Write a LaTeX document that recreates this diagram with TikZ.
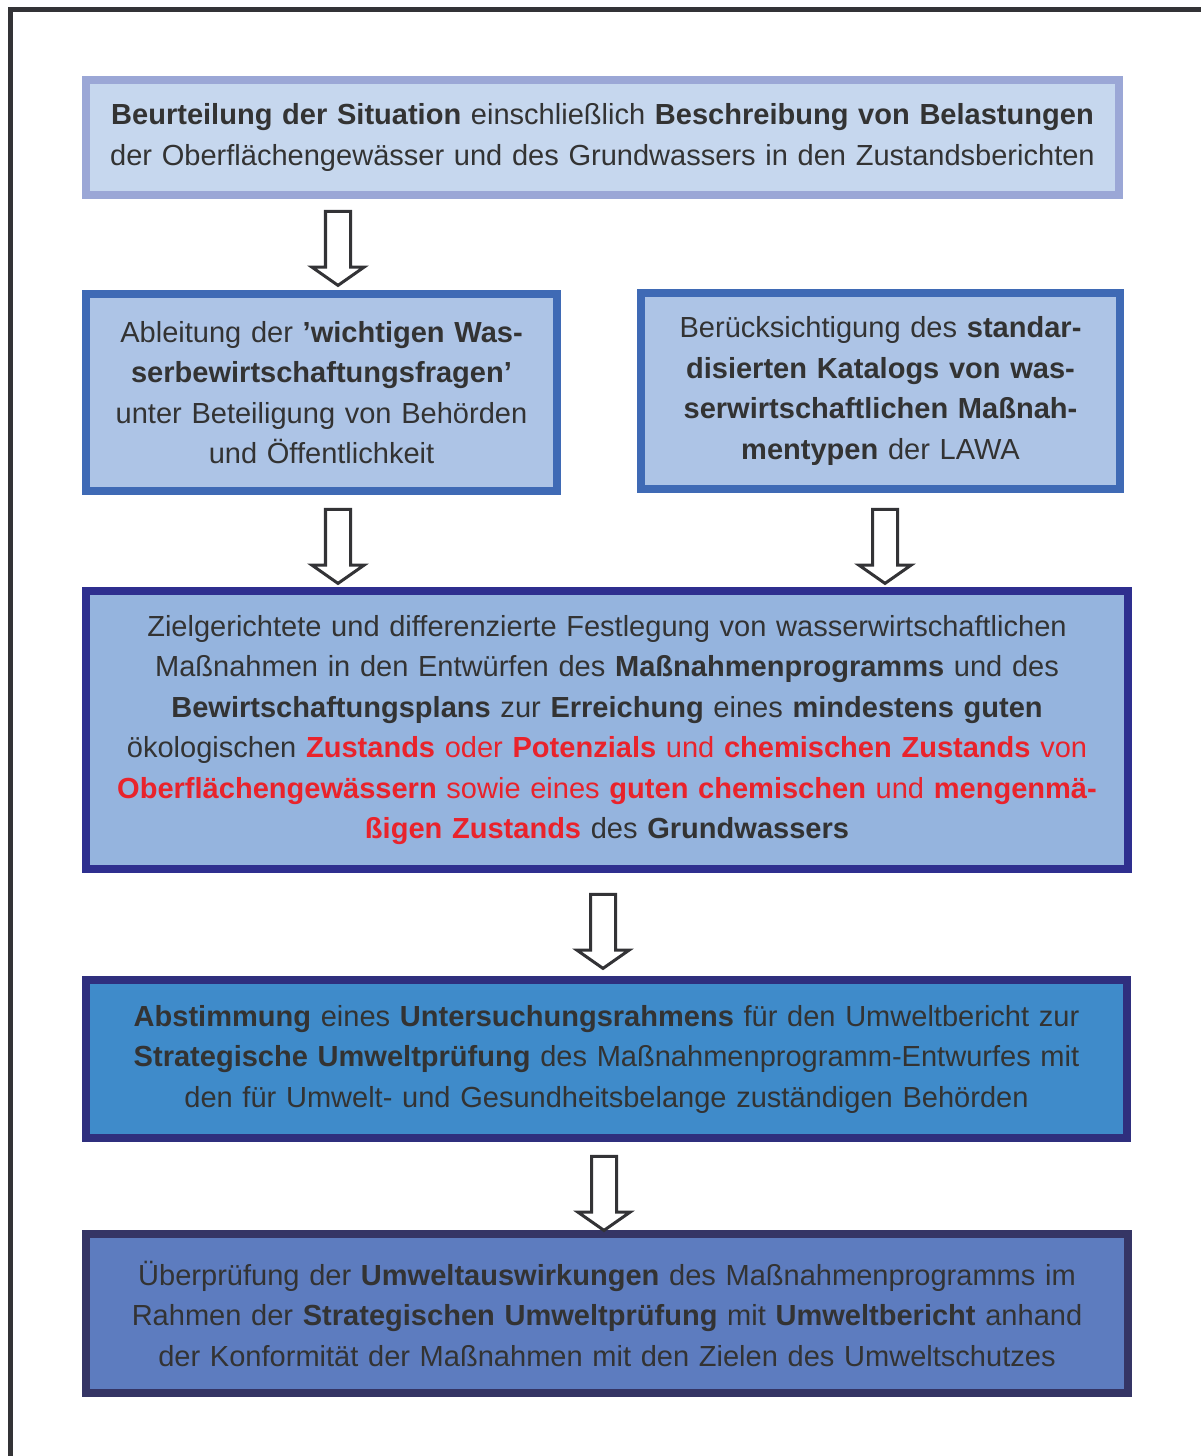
\documentclass[tikz,border=0pt]{standalone}
\usepackage{fontspec}
\setmainfont{Liberation Sans}
\usetikzlibrary{shapes.arrows}

\definecolor{textgrau}{HTML}{333333}
\definecolor{signalrot}{HTML}{E9232B}
\definecolor{rahmengrau}{HTML}{333336}
\definecolor{randhell}{HTML}{9BA7D6}
\definecolor{fuellhell}{HTML}{C6D7EE}
\definecolor{randmittel}{HTML}{3F6AB5}
\definecolor{fuellmittel}{HTML}{ADC4E6}
\definecolor{randdunkel}{HTML}{2E2F8F}
\definecolor{fuellziel}{HTML}{95B4DE}
\definecolor{randsup}{HTML}{2F2F7E}
\definecolor{fuellsup}{HTML}{3F8BCA}
\definecolor{randpruef}{HTML}{353565}
\definecolor{fuellpruef}{HTML}{5D7CBF}

\newcommand{\rb}[1]{{\color{signalrot}\textbf{#1}}}
\newcommand{\rn}[1]{{\color{signalrot}#1}}

\begin{document}
\begin{tikzpicture}[x=0.025cm,y=-0.025cm,
                    kasten/.style={draw,line width=0.2cm,align=center,inner sep=0pt,text=textgrau,
                                   font=\fontsize{20.65}{28.8}\selectfont},
                    pfeil/.style={single arrow,draw=rahmengrau,fill=white,line width=0.075cm,
                                  shape border rotate=270,minimum height=1.85cm,inner sep=0.275cm,
                                  single arrow head extend=0.34cm,single arrow tip angle=110},
                    rahmen/.style={draw=rahmengrau,line width=0.1125cm}]
      \useasboundingbox (0,0) rectangle (1201,1456);
      \draw[rahmen] (10.5,1456) -- (10.5,9.5) -- (1201,9.5);

      % Kaesten
      \node[kasten,draw=randhell,fill=fuellhell,minimum width=25.825cm,minimum height=2.875cm,text width=25.4cm]
        (lage) at (602.5,137.5)
        {\textbf{Beurteilung der Situation} einschließlich \textbf{Beschreibung von Belastungen}\\
         der Oberflächengewässer und des Grundwassers in den Zustandsberichten};

      \node[kasten,draw=randmittel,fill=fuellmittel,minimum width=11.775cm,minimum height=4.925cm,text width=11.3cm]
        (fragen) at (321.5,392.5)
        {Ableitung der \textbf{’wichtigen Was-}\\
         \textbf{serbewirtschaftungsfragen’}\\
         unter Beteiligung von Behörden\\
         und Öffentlichkeit};

      \node[kasten,draw=randmittel,fill=fuellmittel,minimum width=11.975cm,minimum height=4.9cm,text width=11.5cm]
        (katalog) at (880.5,391)
        {Berücksichtigung des \textbf{standar-}\\
         \textbf{disierten Katalogs von was-}\\
         \textbf{serwirtschaftlichen Maßnah-}\\
         \textbf{mentypen} der LAWA};

      \node[kasten,draw=randdunkel,fill=fuellziel,minimum width=26.05cm,minimum height=6.95cm,text width=25.6cm]
        (ziele) at (607,730)
        {Zielgerichtete und differenzierte Festlegung von wasserwirtschaftlichen\\
         Maßnahmen in den Entwürfen des \textbf{Maßnahmenprogramms} und des\\
         \textbf{Bewirtschaftungsplans} zur \textbf{Erreichung} eines \textbf{mindestens guten}\\
         ökologischen \rb{Zustands} \rn{oder} \rb{Potenzials} \rn{und} \rb{chemischen Zustands} \rn{von}\\
         \rb{Oberflächengewässern} \rn{sowie eines} \rb{guten chemischen} \rn{und} \rb{mengenmä-}\\
         \rb{ßigen Zustands} des \textbf{Grundwassers}};

      \node[kasten,draw=randsup,fill=fuellsup,minimum width=26.025cm,minimum height=3.95cm,text width=25.6cm]
        (rahmung) at (606.5,1059)
        {\textbf{Abstimmung} eines \textbf{Untersuchungsrahmens} für den Umweltbericht zur\\
         \textbf{Strategische Umweltprüfung} des Maßnahmenprogramm-Entwurfes mit\\
         den für Umwelt- und Gesundheitsbelange zuständigen Behörden};

      \node[kasten,draw=randpruef,fill=fuellpruef,minimum width=26.05cm,minimum height=3.975cm,text width=25.6cm]
        (pruefung) at (607,1313.5)
        {Überprüfung der \textbf{Umweltauswirkungen} des Maßnahmenprogramms im\\
         Rahmen der \textbf{Strategischen Umweltprüfung} mit \textbf{Umweltbericht} anhand\\
         der Konformität der Maßnahmen mit den Zielen des Umweltschutzes};

      % Pfeile
      \foreach \name/\x/\y in {p1/338/244,p2/338/542,p3/885/542,p4/603/927,p5/604/1189} {
        \node[pfeil] (\name) at (\x,\y) {};
      }
\end{tikzpicture}
\end{document}
